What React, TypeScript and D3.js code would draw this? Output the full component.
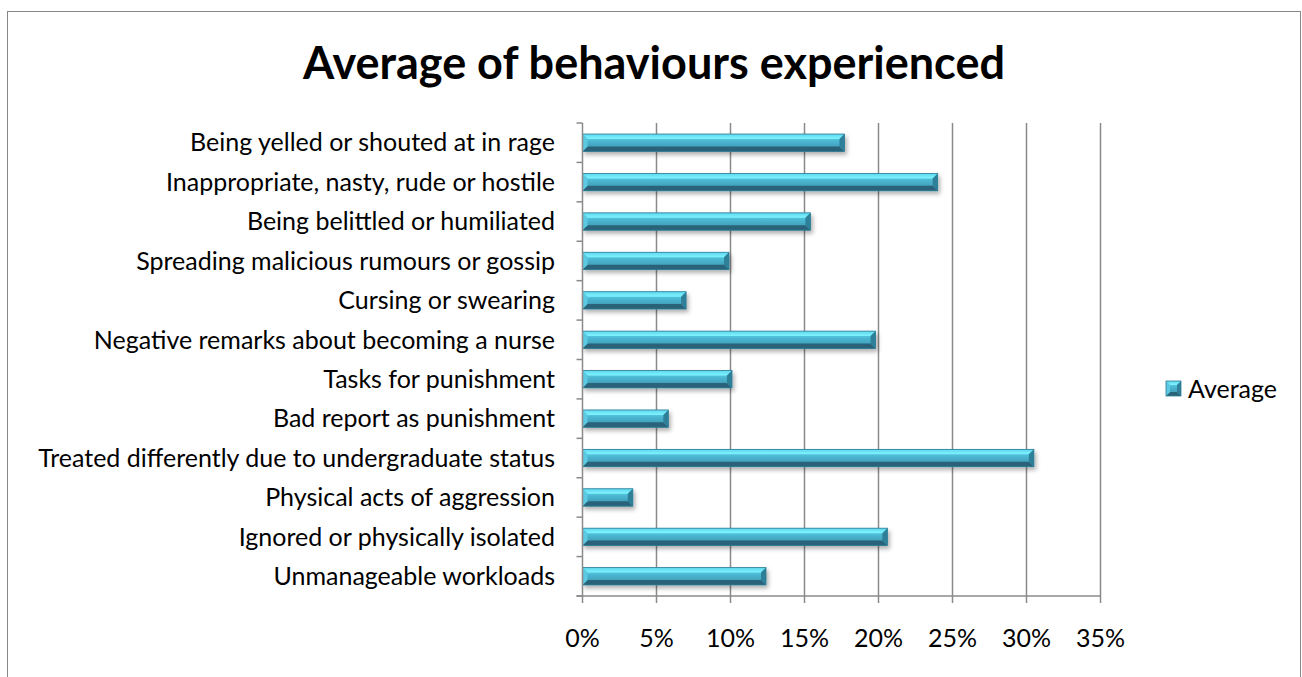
import React from 'react';
import * as d3 from 'd3';

const categories = [
  'Being yelled or shouted at in rage',
  'Inappropriate, nasty, rude or hostile',
  'Being belittled or humiliated',
  'Spreading malicious rumours or gossip',
  'Cursing or swearing',
  'Negative remarks about becoming a nurse',
  'Tasks for punishment',
  'Bad report as punishment',
  'Treated differently due to undergraduate status',
  'Physical acts of aggression',
  'Ignored or physically isolated',
  'Unmanageable workloads',
];
const averages = [0.177, 0.24, 0.154, 0.099, 0.07, 0.198, 0.101, 0.058, 0.305, 0.034, 0.206, 0.124];
const xTicks = [0, 0.05, 0.1, 0.15, 0.2, 0.25, 0.3, 0.35];
const seriesName = 'Average';
const title = 'Average of behaviours experienced';

const W = 1302;
const H = 677;
const plot = { left: 582.5, right: 1100.5, top: 123, bottom: 596 };
const font = 'Lato, "Open Sans", sans-serif';
const grid = '#8a8a8a';

const x = d3.scaleLinear().domain([0, 0.35]).range([plot.left, plot.right]);
const y = d3.scaleBand<string>()
  .domain(categories)
  .range([plot.top, plot.bottom])
  .paddingInner(0.56)
  .paddingOuter(0.28);

const pt = (p: number[][]) => p.map(d => d.join(',')).join(' ');

// bevelled bar, excel style
function Bevel({ x0, x1, y0, h, b }: { x0: number; x1: number; y0: number; h: number; b: number }) {
  const y1 = y0 + h;
  return (
    <g>
      <rect x={x0} y={y0} width={x1 - x0} height={h} fill="url(#face)" />
      <polygon points={pt([[x0, y0], [x1, y0], [x1 - b, y0 + b], [x0 + b, y0 + b]])} fill="url(#topFacet)" />
      <polygon points={pt([[x0, y1], [x1, y1], [x1 - b, y1 - b], [x0 + b, y1 - b]])} fill="#2a6479" />
      <polygon points={pt([[x1, y0], [x1, y1], [x1 - b, y1 - b], [x1 - b, y0 + b]])} fill="#2f7f98" />
      <polygon points={pt([[x0, y0], [x0 + b, y0 + b], [x0 + b, y1 - b], [x0, y1]])} fill="#5cc9e2" />
      <rect x={x0} y={y0} width={x1 - x0} height={h} fill="none" stroke="#2b7d96" strokeWidth={0.8} />
    </g>
  );
}

export default function App() {
  const bw = y.bandwidth();
  const bounds = d3.range(categories.length + 1).map(i => plot.top + (i * (plot.bottom - plot.top)) / categories.length);

  return (
    <svg width={W} height={H} style={{ position: 'absolute', left: 0, top: 0, background: '#fff' }}>
      <defs>
        <linearGradient id="face" x1="0" y1="0" x2="0" y2="1">
          <stop offset="0" stopColor="#62dcf2" />
          <stop offset="0.45" stopColor="#4ab4cf" />
          <stop offset="1" stopColor="#3a90a9" />
        </linearGradient>
        <linearGradient id="topFacet" x1="0" y1="0" x2="0" y2="1">
          <stop offset="0" stopColor="#5fd6ee" />
          <stop offset="1" stopColor="#7ff5ff" />
        </linearGradient>
        <filter id="shadow" x="-5%" y="-50%" width="110%" height="220%">
          <feDropShadow dx="2" dy="3" stdDeviation="2" floodColor="#000" floodOpacity="0.3" />
        </filter>
      </defs>

      <rect x={7.5} y={11.5} width={1293} height={700} fill="#fff" stroke="#888" strokeWidth={1} />

      <text x={654} y={79} textAnchor="middle" fontFamily={font} fontWeight={700} fontSize={45} fill="#000">
        {title}
      </text>

      {/* gridlines */}
      {xTicks.slice(1).map(t => (
        <line key={t} x1={x(t)} x2={x(t)} y1={plot.top} y2={plot.bottom} stroke={grid} strokeWidth={1.5} />
      ))}

      {/* bars */}
      <g filter="url(#shadow)">
        {categories.map((c, i) => (
          <Bevel key={c} x0={x(0)} x1={x(averages[i])} y0={y(c)!} h={bw} b={5} />
        ))}
      </g>

      {/* axes */}
      <line x1={plot.left} x2={plot.left} y1={plot.top} y2={plot.bottom} stroke={grid} strokeWidth={1.5} />
      <line x1={plot.left - 6} x2={plot.right} y1={plot.bottom} y2={plot.bottom} stroke={grid} strokeWidth={1.5} />
      {bounds.map((b, i) => (
        <line key={i} x1={plot.left - 6} x2={plot.left} y1={b} y2={b} stroke={grid} strokeWidth={1.5} />
      ))}
      {xTicks.map(t => (
        <line key={t} x1={x(t)} x2={x(t)} y1={plot.bottom} y2={plot.bottom + 7} stroke={grid} strokeWidth={1.5} />
      ))}

      {/* category labels */}
      {categories.map(c => (
        <text key={c} x={555} y={y(c)! + bw / 2} dy="0.35em" textAnchor="end" fontFamily={font} fontSize={25} fill="#000">
          {c}
        </text>
      ))}

      {/* x tick labels */}
      {xTicks.map(t => (
        <text key={t} x={x(t)} y={638} dy="0.35em" textAnchor="middle" fontFamily={font} fontSize={25} fill="#000">
          {d3.format('.0%')(t)}
        </text>
      ))}

      {/* legend */}
      <g>
        <Bevel x0={1166} x1={1181} y0={381} h={15} b={4} />
      </g>
      <text x={1188} y={389} dy="0.35em" fontFamily={font} fontSize={25} fill="#000">
        {seriesName}
      </text>
    </svg>
  );
}
